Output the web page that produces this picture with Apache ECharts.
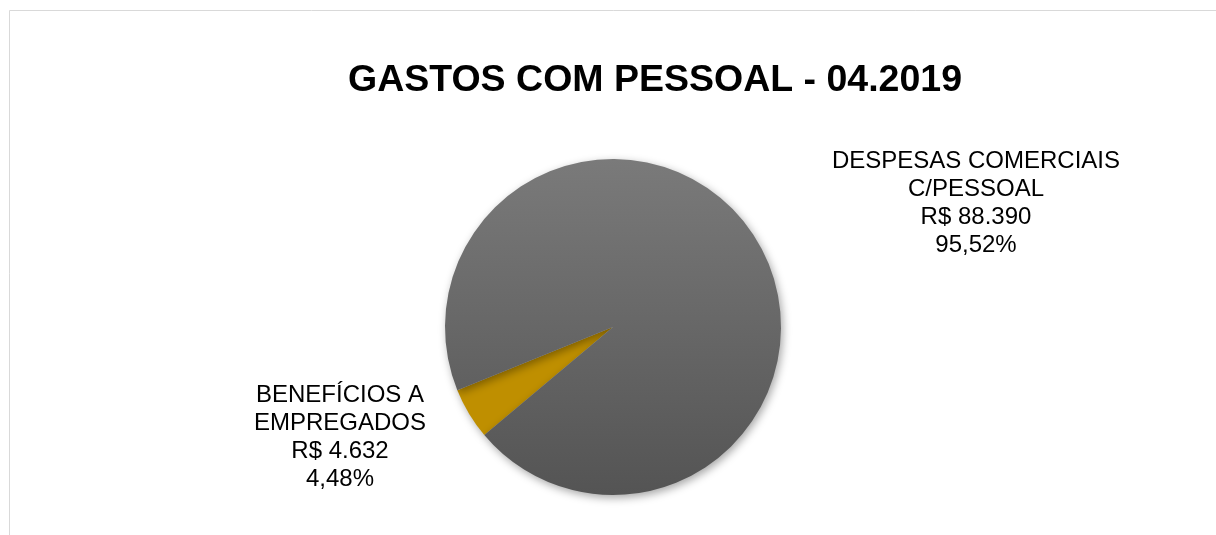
<!DOCTYPE html>
<html>
<head>
<meta charset="utf-8">
<script src="https://cdn.jsdelivr.net/npm/echarts@6/dist/echarts.min.js"></script>
<style>
  html, body { margin: 0; padding: 0; background: #fff; }
  #main { width: 1216px; height: 535px; }
</style>
</head>
<body>
<div id="main"></div>
<script>
// dados do gráfico
var categorias = ['BENEFÍCIOS A\nEMPREGADOS', 'DESPESAS COMERCIAIS\nC/PESSOAL'];
var valores = [4632, 88390];
// percentuais como impressos nos rótulos
var percentuais = ['4,48%', '95,52%'];
var cores = ['#BF8F00', null];

var chartDom = document.getElementById('main');
var myChart = echarts.init(chartDom);

// posição dos rótulos (centro do bloco de texto)
var posRotulos = [[340, 437], [976, 203]];

var option = {
  backgroundColor: '#fff',
  animation: false,
  title: {
    text: 'GASTOS COM PESSOAL - 04.2019',
    left: 650,
    top: 57,
    textAlign: 'center',
    textStyle: {
      fontFamily: 'Liberation Sans, Arial',
      fontWeight: 'bold',
      fontSize: 37.5,
      color: '#000'
    }
  },
  graphic: [
    {
      type: 'rect',
      silent: true,
      shape: { x: 9.5, y: 10.5, width: 1400, height: 700 },
      style: { fill: 'none', stroke: '#d9d9d9', lineWidth: 1 }
    }
  ],
  series: [
    {
      type: 'pie',
      center: [613, 327],
      radius: 168,
      startAngle: 220,
      clockwise: true,
      avoidLabelOverlap: false,
      itemStyle: {
        shadowBlur: 8,
        shadowOffsetX: 2,
        shadowOffsetY: 3,
        shadowColor: 'rgba(0,0,0,0.35)'
      },
      label: {
        show: true,
        position: 'outside',
        fontFamily: 'Liberation Sans, Arial',
        fontSize: 24,
        lineHeight: 28,
        color: '#000',
        align: 'center',
        formatter: function (p) {
          var v = 'R$ ' + p.value.toLocaleString('pt-BR');
          return p.name + '\n' + v + '\n' + percentuais[p.dataIndex];
        }
      },
      labelLine: { show: false },
      labelLayout: function (params) {
        var pos = posRotulos[params.dataIndex];
        return { x: pos[0], y: pos[1], align: 'center', verticalAlign: 'middle' };
      },
      data: categorias.map(function (c, i) {
        var item = { name: c, value: valores[i] };
        if (cores[i]) {
          item.itemStyle = { color: cores[i] };
        } else {
          item.itemStyle = {
            color: new echarts.graphic.LinearGradient(0, 0, 0, 1, [
              { offset: 0, color: '#7a7a7a' },
              { offset: 1, color: '#545454' }
            ])
          };
        }
        return item;
      })
    }
  ]
};

myChart.setOption(option);
</script>
</body>
</html>
